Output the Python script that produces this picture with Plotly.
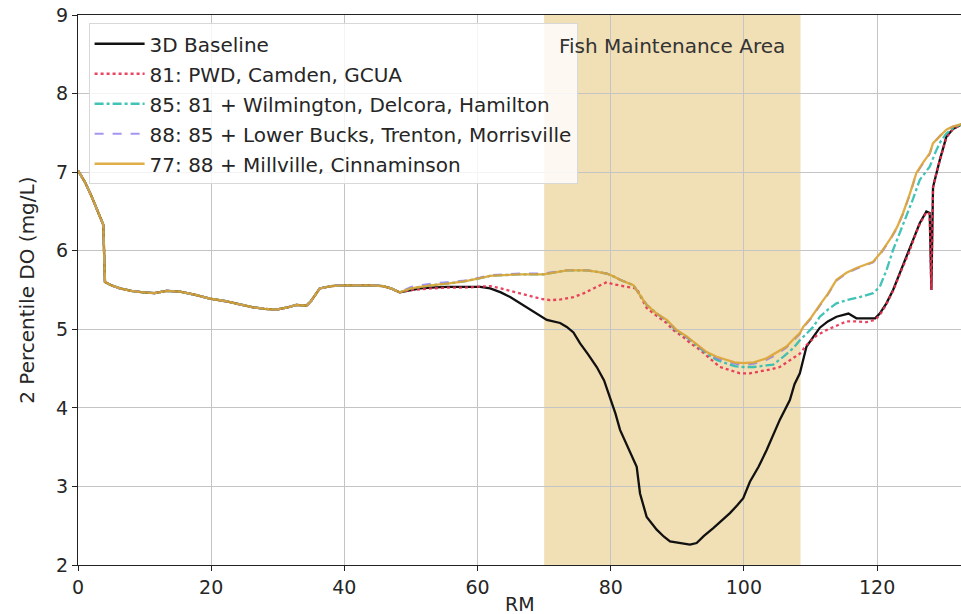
import plotly.graph_objects as go

# ---------------- data ----------------
# common portion (all scenarios identical upstream)
rm_common = [0, 1, 2, 3, 3.8, 4.05, 5, 6.3, 8, 9.8, 11.5, 13.3, 15.3, 17.5, 19.8, 22, 24,
             26.3, 28, 29.8, 31.5, 32.8, 34.3, 35, 36.3, 38, 39.8, 42, 44, 45.8, 47, 48.3]
do_common = [7.02, 6.88, 6.7, 6.5, 6.33, 5.6, 5.56, 5.52, 5.49, 5.47, 5.46, 5.49, 5.48, 5.44,
             5.39, 5.36, 5.32, 5.28, 5.26, 5.25, 5.28, 5.31, 5.30, 5.36, 5.52, 5.55, 5.56,
             5.56, 5.56, 5.55, 5.52, 5.47]

rm_base = [50, 51.4, 53, 55.4, 58, 60.4, 61.9, 63.5, 64.9, 66.4, 67.9, 69.4, 70.4, 72.4, 73.4,
           74.4, 75.4, 76.6, 77.9, 79, 79.9, 80.7, 81.4, 82.5, 83.9, 84.4, 85.4, 86.9, 88,
           88.9, 90.9, 91.9, 92.9, 94, 95.4, 96.5, 97.9, 99, 99.9, 100.9, 102.2, 103.4, 104.4,
           105.4, 106.9, 107.6, 108.4, 109.4, 110.4, 111.4, 112.6, 113.9, 115.7, 116.9, 118.3,
           119.7, 120.4, 121.4, 122.4, 123.6, 124.9, 125.6, 126.4, 127.4, 127.9, 128.15, 128.4,
           128.9, 129.4, 129.9, 130.4, 131.4, 132.4, 133]
do_base = [5.5, 5.52, 5.53, 5.54, 5.54, 5.54, 5.52, 5.47, 5.41, 5.33, 5.25, 5.18, 5.12, 5.08,
           5.03, 4.96, 4.82, 4.68, 4.52, 4.35, 4.14, 3.93, 3.72, 3.52, 3.25, 2.91, 2.61, 2.45,
           2.36, 2.30, 2.27, 2.26, 2.28, 2.37, 2.47, 2.55, 2.66, 2.76, 2.85, 3.06, 3.25, 3.46,
           3.65, 3.85, 4.10, 4.30, 4.44, 4.78, 4.90, 5.02, 5.10, 5.16, 5.20, 5.14, 5.14, 5.14,
           5.20, 5.33, 5.50, 5.75, 6.01, 6.18, 6.35, 6.50, 6.48, 5.50, 6.81, 7.0, 7.15, 7.30,
           7.45, 7.55, 7.60, 7.62]

rm_81 = [50, 53, 55.4, 58, 60.4, 61.9, 63.5, 65.4, 67.4, 69.4, 70.9, 72.5, 74.4, 76, 77.4,
         79.4, 80.5, 82.4, 83.9, 84.6, 85.4, 86.9, 88.4, 89.4, 90.9, 92, 93.4, 95, 96.4, 97.9,
         99.4, 100.9, 102.4, 104, 105.4, 106.9, 108.4, 109.4, 110.9, 112.4, 113.9, 115.4,
         116.9, 118.4, 119.7, 120.4, 121.4, 122.4, 123.6, 124.9, 125.6, 126.4, 127.4, 127.9,
         128.15, 128.4, 128.9, 129.4, 129.9, 130.4, 131.4, 132.4, 133]
do_81 = [5.5, 5.52, 5.53, 5.53, 5.54, 5.55, 5.52, 5.48, 5.43, 5.39, 5.37, 5.38, 5.41, 5.46,
         5.52, 5.60, 5.57, 5.54, 5.52, 5.40, 5.27, 5.17, 5.08, 4.99, 4.90, 4.82, 4.74, 4.62,
         4.52, 4.48, 4.44, 4.44, 4.46, 4.49, 4.52, 4.60, 4.69, 4.80, 4.92, 4.99, 5.05, 5.10,
         5.10, 5.09, 5.12, 5.18, 5.32, 5.49, 5.74, 6.00, 6.17, 6.34, 6.49, 6.47, 5.50, 6.80,
         6.99, 7.14, 7.29, 7.44, 7.55, 7.60, 7.62]

rm_77 = [50, 51.4, 53, 55.4, 58, 60.4, 61.9, 64, 66.4, 69.9, 71.5, 73.4, 75, 76.4, 78, 79.4,
         80.5, 81.4, 83.4, 84.2, 84.9, 85.4, 86.9, 88.4, 89.9, 91.4, 92.9, 94.4, 95.9, 97.4,
         98.6, 99.9, 101.5, 103.4, 104.9, 106.4, 107.5, 108.4, 108.9, 110.1, 111.4, 112.6,
         113.9, 115.4, 116.9, 118.2, 119.4, 120.6, 121.9, 123, 123.9, 124.9, 125.9, 126.9,
         127.9, 128.4, 129.4, 130.4, 131.4, 132.4, 133]
do_77 = [5.52, 5.54, 5.56, 5.58, 5.61, 5.65, 5.68, 5.69, 5.70, 5.70, 5.72, 5.75, 5.75, 5.75,
         5.73, 5.71, 5.67, 5.63, 5.56, 5.45, 5.37, 5.31, 5.20, 5.12, 4.99, 4.91, 4.81, 4.71,
         4.65, 4.61, 4.58, 4.57, 4.58, 4.63, 4.70, 4.78, 4.88, 4.95, 5.03, 5.15, 5.31, 5.45,
         5.63, 5.72, 5.78, 5.82, 5.86, 5.98, 6.14, 6.30, 6.48, 6.72, 6.99, 7.12, 7.24, 7.37,
         7.46, 7.54, 7.58, 7.60, 7.62]

rm_88 = [50, 51.4, 53, 55.4, 58, 60.4, 61.9, 64, 66.4, 69.9, 71.5, 73.4, 75, 76.4, 78, 79.4,
         80.5, 81.4, 83.4, 84.2, 84.9, 85.4, 86.9, 88.4, 89.9, 91.4, 92.9, 94.4, 95.9, 97.4,
         98.6, 99.9, 101.5, 103.4, 104.9, 106.4, 107.5, 108.4, 108.9, 110.1, 111.4, 112.6,
         113.9, 115.4, 116.9, 118.2, 119.4, 120.6, 121.9, 123, 123.9, 124.9, 125.9, 126.9,
         127.9, 128.4, 129.4, 130.4, 131.4, 132.4, 133]
do_88 = [5.54, 5.56, 5.58, 5.60, 5.62, 5.66, 5.69, 5.70, 5.71, 5.71, 5.73, 5.75, 5.75, 5.75,
         5.73, 5.71, 5.67, 5.63, 5.56, 5.45, 5.37, 5.31, 5.20, 5.11, 4.98, 4.90, 4.80, 4.70,
         4.63, 4.59, 4.56, 4.55, 4.56, 4.61, 4.68, 4.77, 4.87, 4.94, 5.02, 5.14, 5.30, 5.44,
         5.62, 5.71, 5.77, 5.81, 5.85, 5.97, 6.13, 6.29, 6.47, 6.71, 6.98, 7.11, 7.23, 7.36,
         7.46, 7.54, 7.58, 7.60, 7.62]

rm_85 = [50, 51.4, 53, 55.4, 58, 60.4, 61.9, 64, 66.4, 69.9, 71.5, 73.4, 75, 76.4, 78, 79.4,
         80.5, 81.4, 83.4, 84.2, 84.9, 85.4, 86.9, 88.4, 89.9, 91.4, 92.9, 94.4, 95.9, 97.4,
         98.6, 99.9, 101.5, 103.4, 104.4, 105.9, 107.4, 108.4, 109.5, 110.4, 111.4, 112.6,
         113.9, 115.4, 117.4, 119.4, 120.4, 121.4, 122.4, 123.4, 124.4, 125.4, 126.4, 127.9,
         128.9, 129.6, 130.4, 131.4, 132.4, 133]
do_85 = [5.52, 5.54, 5.56, 5.58, 5.61, 5.65, 5.68, 5.69, 5.70, 5.70, 5.72, 5.75, 5.75, 5.75,
         5.73, 5.71, 5.67, 5.63, 5.56, 5.45, 5.37, 5.31, 5.20, 5.11, 4.98, 4.90, 4.80, 4.69,
         4.61, 4.56, 4.53, 4.52, 4.52, 4.54, 4.55, 4.65, 4.76, 4.86, 4.96, 5.03, 5.16, 5.25,
         5.33, 5.37, 5.41, 5.46, 5.54, 5.75, 6.01, 6.22, 6.43, 6.66, 6.90, 7.07, 7.28, 7.40,
         7.49, 7.56, 7.60, 7.62]

labels = ["3D Baseline", "81: PWD, Camden, GCUA", "85: 81 + Wilmington, Delcora, Hamilton",
          "88: 85 + Lower Bucks, Trenton, Morrisville", "77: 88 + Millville, Cinnaminson"]
fma_range = [70, 108.5]
fma_label = "Fish Maintenance Area"
x_title = "RM"
y_title = "2 Percentile DO (mg/L)"
x_ticks = [0, 20, 40, 60, 80, 100, 120]
y_ticks = [2, 3, 4, 5, 6, 7, 8, 9]

# ---------------- figure ----------------
FONT = "DejaVu Sans"
fig = go.Figure()

series = [
    (rm_base, do_base, dict(color="#111111", width=2.3, dash="solid"), 1.0),
    (rm_81, do_81, dict(color="#e8304f", width=2.3, dash="dot"), 0.9),
    (rm_85, do_85, dict(color="#2ebdb0", width=2.3, dash="dashdot"), 0.9),
    (rm_88, do_88, dict(color="#8b7cf0", width=2.0, dash="dash"), 0.8),
    (rm_77, do_77, dict(color="#dca534", width=2.3, dash="solid"), 0.9),
]
for i, ((xs, ys, ln, op), name) in enumerate(zip(series, labels)):
    fig.add_trace(go.Scatter(
        x=rm_common + xs, y=do_common + ys, mode="lines", name=name,
        line=ln, opacity=op, legendgroup=f"g{i}"))

fig.add_shape(type="rect", xref="x", yref="y", x0=fma_range[0], x1=fma_range[1],
              y0=2, y1=9, fillcolor="#f1dfb6", line_width=0, layer="below")

fig.add_annotation(x=(fma_range[0] + fma_range[1]) / 2, y=8.6, text=fma_label,
                   showarrow=False, xanchor="center", yanchor="middle",
                   font=dict(family=FONT, size=20, color="#333333"))

# axis titles
fig.add_annotation(xref="paper", yref="paper", x=0.5, y=-0.0705, text=x_title,
                   showarrow=False, xanchor="center", yanchor="middle",
                   font=dict(family=FONT, size=19, color="#262626"))
fig.add_annotation(xref="paper", yref="paper", x=-0.058, y=0.5, text=y_title,
                   textangle=-90, showarrow=False, xanchor="center", yanchor="middle",
                   font=dict(family=FONT, size=20, color="#262626"))

axis_common = dict(showgrid=True, gridcolor="#c4c4c4", gridwidth=1, showline=True,
                   linecolor="#222222", linewidth=1.2, ticks="outside", ticklen=5,
                   tickcolor="#222222", tickfont=dict(family=FONT, size=19, color="#262626"),
                   zeroline=False, automargin=False)

fig.update_layout(
    width=961, height=614,
    margin=dict(l=78, r=0, t=15, b=49),
    paper_bgcolor="white", plot_bgcolor="white",
    font=dict(family=FONT, size=19, color="#262626"),
    showlegend=True,
    legend=dict(x=0.012, y=0.985, xanchor="left", yanchor="top",
                bgcolor="rgba(255,255,255,0.82)", bordercolor="#d8d8d8", borderwidth=1,
                font=dict(family=FONT, size=20, color="#262626"),
                traceorder="grouped", tracegroupgap=1, itemwidth=50),
    xaxis=dict(range=[0, 132.6], tickvals=x_ticks, mirror=True, **axis_common),
    yaxis=dict(range=[2, 9], tickvals=y_ticks, mirror=False, **axis_common),
)

fig.write_html("out.html")
